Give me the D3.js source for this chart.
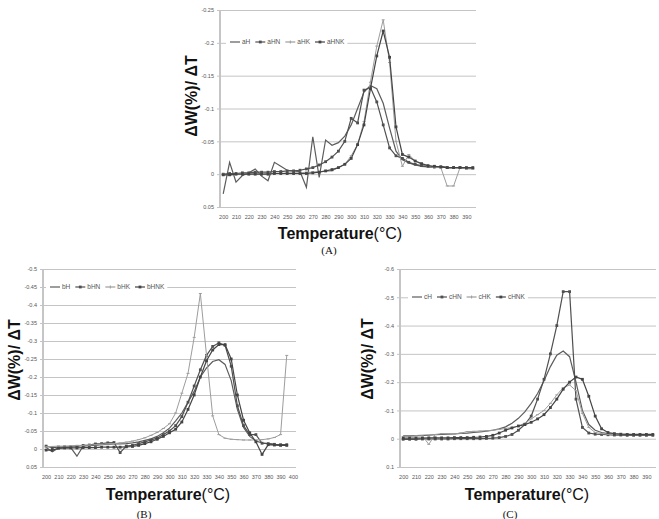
<!DOCTYPE html>
<html>
<head>
<meta charset="utf-8">
<script src="https://cdn.jsdelivr.net/npm/d3@7"></script>
<style>
body { margin: 0; background: #fff; }
svg { display: block; font-family: "Liberation Sans", Arial, sans-serif; }
</style>
</head>
<body>
<svg id="fig" width="659" height="519"></svg>
<script>
// categories (temperature, every 5 degC)
const tempsAC = [200,205,210,215,220,225,230,235,240,245,250,255,260,265,270,275,280,285,290,295,
                 300,305,310,315,320,325,330,335,340,345,350,355,360,365,370,375,380,385,390,395];
const tempsB = [200,205,210,215,220,225,230,235,240,245,250,255,260,265,270,275,280,285,290,295,
                300,305,310,315,320,325,330,335,340,345,350,355,360,365,370,375,380,385,390,395,400];

const xTicksAC = [200,210,220,230,240,250,260,270,280,290,300,310,320,330,340,350,360,370,380,390];
const xTicksB = [200,210,220,230,240,250,260,270,280,290,300,310,320,330,340,350,360,370,380,390,400];
const yTicksA = [0.05,0,-0.05,-0.1,-0.15,-0.2,-0.25];
const yTicksB = [0.05,0,-0.05,-0.1,-0.15,-0.2,-0.25,-0.3,-0.35,-0.4,-0.45,-0.5];
const yTicksC = [0.1,0,-0.1,-0.2,-0.3,-0.4,-0.5,-0.6];

// (A)
const namesA = ["aH","aHN","aHK","aHNK"];
const aH = [0.03,-0.018,0.012,0.002,-0.002,-0.008,0.003,0.01,-0.018,-0.012,-0.006,-0.005,-0.004,0.02,-0.057,0.005,-0.052,-0.044,-0.048,-0.058,
            -0.075,-0.1,-0.125,-0.135,-0.13,-0.108,-0.07,-0.035,-0.022,-0.017,-0.014,-0.012,-0.011,-0.01,-0.012,-0.01,-0.01,-0.01,-0.009,-0.009];
const aHN = [0,-0.001,-0.001,-0.002,-0.002,-0.003,-0.003,-0.003,-0.004,-0.004,-0.005,-0.005,-0.006,-0.008,-0.01,-0.014,-0.019,-0.026,-0.035,-0.05,
             -0.085,-0.078,-0.128,-0.132,-0.11,-0.075,-0.04,-0.028,-0.024,-0.018,-0.015,-0.013,-0.012,-0.011,-0.011,-0.01,-0.01,-0.01,-0.009,-0.009];
const aHK = [0,0.002,0,-0.001,0,-0.001,0,-0.001,-0.001,-0.001,-0.002,-0.002,-0.002,-0.003,-0.003,-0.004,-0.004,-0.005,-0.01,-0.015,
             -0.028,-0.045,-0.08,-0.14,-0.195,-0.235,-0.17,-0.05,-0.012,-0.03,-0.02,-0.015,-0.012,-0.01,-0.01,0.018,0.018,-0.01,-0.008,-0.008];
const aHNK = [0.001,0.001,0,0,0,0,0,0,-0.001,-0.001,-0.001,-0.001,-0.001,-0.001,-0.002,-0.003,-0.005,-0.007,-0.01,-0.015,
              -0.024,-0.045,-0.075,-0.13,-0.18,-0.218,-0.178,-0.072,-0.03,-0.026,-0.02,-0.016,-0.013,-0.012,-0.011,-0.01,-0.01,-0.01,-0.01,-0.01];

// (B)
const namesB = ["bH","bHN","bHK","bHNK"];
const bH = [-0.005,0.008,-0.003,-0.003,-0.004,0.02,-0.008,-0.009,-0.01,-0.012,-0.013,-0.014,-0.014,-0.015,-0.017,-0.02,-0.024,-0.028,-0.035,-0.045,
            -0.058,-0.078,-0.1,-0.13,-0.16,-0.2,-0.225,-0.243,-0.248,-0.235,-0.19,-0.11,-0.06,-0.035,-0.022,-0.017,-0.015,-0.013,-0.012,-0.012];
const bHN = [-0.008,-0.004,-0.005,-0.006,-0.006,-0.007,-0.01,-0.011,-0.014,-0.015,-0.017,-0.018,0.01,-0.008,-0.01,-0.015,-0.02,-0.025,-0.03,-0.04,
             -0.05,-0.065,-0.09,-0.13,-0.175,-0.22,-0.26,-0.285,-0.295,-0.288,-0.23,-0.12,-0.065,-0.04,-0.04,-0.016,-0.015,-0.013,-0.012,-0.012];
const bHK = [-0.006,-0.007,-0.008,-0.008,-0.009,-0.01,-0.01,-0.011,-0.012,-0.013,-0.014,-0.015,-0.017,-0.019,-0.022,-0.026,-0.031,-0.038,-0.046,-0.057,
             -0.07,-0.1,-0.155,-0.21,-0.31,-0.432,-0.26,-0.092,-0.04,-0.03,-0.027,-0.026,-0.025,-0.025,-0.025,-0.026,-0.028,-0.032,-0.04,-0.26];
const bHNK = [0.003,0.003,-0.002,-0.003,-0.003,-0.003,-0.004,-0.004,-0.004,-0.005,-0.005,-0.005,-0.005,-0.006,-0.007,-0.01,-0.015,-0.02,-0.027,-0.035,
              -0.045,-0.055,-0.075,-0.11,-0.15,-0.2,-0.245,-0.275,-0.29,-0.29,-0.25,-0.15,-0.08,-0.045,-0.02,0.015,-0.012,-0.011,-0.01,-0.01];

// (C)
const namesC = ["cH","cHN","cHK","cHNK"];
const cH = [-0.01,-0.01,-0.011,-0.012,-0.013,-0.014,-0.015,-0.016,-0.017,-0.019,-0.02,-0.022,-0.024,-0.027,-0.03,-0.035,-0.042,-0.055,-0.072,-0.095,
            -0.125,-0.16,-0.205,-0.255,-0.295,-0.31,-0.29,-0.2,-0.1,-0.05,-0.03,-0.022,-0.018,-0.016,-0.015,-0.015,-0.014,-0.014,-0.013,-0.013];
const cHN = [0.002,0.002,0.002,0.001,0.001,0.001,0.001,0.001,0,0,0,0,0,-0.001,-0.002,-0.004,-0.008,-0.015,-0.03,-0.05,
             -0.08,-0.14,-0.21,-0.3,-0.4,-0.52,-0.52,-0.14,-0.04,-0.02,-0.016,-0.015,-0.014,-0.013,-0.013,-0.012,-0.012,-0.012,-0.012,-0.012];
const cHK = [-0.008,-0.008,-0.01,-0.01,0.02,-0.015,-0.018,-0.018,-0.017,-0.02,-0.025,-0.026,-0.027,-0.028,-0.03,-0.033,-0.036,-0.04,-0.045,-0.055,
             -0.07,-0.085,-0.1,-0.125,-0.155,-0.18,-0.19,-0.17,-0.09,-0.04,-0.022,-0.018,-0.016,-0.015,-0.015,-0.014,-0.014,-0.014,-0.014,-0.014];
const cHNK = [-0.002,-0.002,-0.002,-0.002,-0.003,-0.003,-0.003,-0.003,-0.004,-0.004,-0.004,-0.005,-0.006,-0.008,-0.012,-0.02,-0.03,-0.038,-0.045,-0.05,
              -0.058,-0.07,-0.085,-0.11,-0.14,-0.175,-0.2,-0.218,-0.21,-0.15,-0.08,-0.035,-0.022,-0.018,-0.016,-0.015,-0.015,-0.015,-0.015,-0.015];

// line look per series slot: plain, marker, light, marker
const styles = [
  {color: "#5c5c5c", marker: null},
  {color: "#505050", marker: "dot"},
  {color: "#9d9d9d", marker: "dash"},
  {color: "#444444", marker: "dot"}
];

const panels = [
  {left: 220, right: 476, top: 10, bottom: 207, cats: tempsAC, xTicks: xTicksAC,
   yLow: 0.05, yHigh: -0.25, yTicks: yTicksA, names: namesA, series: [aH, aHN, aHK, aHNK],
   legend: [230, 42], yTitle: [191, 96], xTitle: [340, 239], label: "(A)", labelPos: [329, 254]},
  {left: 43, right: 296, top: 269, bottom: 467, cats: tempsB, xTicks: xTicksB,
   yLow: 0.05, yHigh: -0.5, yTicks: yTicksB, names: namesB, series: [bH, bHN, bHK, bHNK],
   legend: [50, 287], yTitle: [14, 360], xTitle: [168, 500], label: "(B)", labelPos: [144, 518]},
  {left: 400, right: 656, top: 269, bottom: 467, cats: tempsAC, xTicks: xTicksAC,
   yLow: 0.1, yHigh: -0.6, yTicks: yTicksC, names: namesC, series: [cH, cHN, cHK, cHNK],
   legend: [412, 297], yTitle: [367, 359], xTitle: [527, 500], label: "(C)", labelPos: [510, 518]}
];

const svg = d3.select("#fig");

panels.forEach(p => {
  const g = svg.append("g");

  const x = d3.scalePoint().domain(p.cats).range([p.left, p.right]).padding(0.5);
  const y = d3.scaleLinear().domain([p.yLow, p.yHigh]).range([p.bottom, p.top]);

  // gridlines + y labels
  const yAxis = g.append("g")
      .attr("transform", `translate(${p.left},0)`)
      .call(d3.axisLeft(y).tickValues(p.yTicks).tickSize(-(p.right - p.left)).tickPadding(6).tickFormat(String));
  yAxis.select(".domain").attr("stroke", "#8c8c8c").attr("d", `M0,${p.top}V${p.bottom}`);
  yAxis.selectAll(".tick line").attr("stroke", "#c4c4c4").attr("x1", -3);
  yAxis.selectAll(".tick text").attr("fill", "#555").attr("font-size", 5.5);

  // x labels
  const xAxis = g.append("g")
      .attr("transform", `translate(0,${p.bottom})`)
      .call(d3.axisBottom(x).tickValues(p.xTicks).tickSize(0).tickPadding(8));
  xAxis.select(".domain").remove();
  xAxis.selectAll(".tick text").attr("fill", "#555").attr("font-size", 5.5);

  // series
  p.series.forEach((vals, si) => {
    const st = styles[si];
    const pts = vals.map((v, i) => [x(p.cats[i]), y(v)]);
    g.append("path")
        .datum(pts)
        .attr("fill", "none")
        .attr("stroke", st.color)
        .attr("stroke-width", si === 2 ? 1 : 1.2)
        .attr("d", d3.line());
    if (st.marker === "dot") {
      g.selectAll(null).data(pts).join("rect")
          .attr("x", d => d[0] - 1.4).attr("y", d => d[1] - 1.4)
          .attr("width", 2.8).attr("height", 2.8)
          .attr("fill", st.color);
    } else if (st.marker === "dash") {
      g.selectAll(null).data(pts).join("line")
          .attr("x1", d => d[0] - 1.5).attr("x2", d => d[0] + 1.5)
          .attr("y1", d => d[1]).attr("y2", d => d[1])
          .attr("stroke", st.color).attr("stroke-width", 1);
    }
  });

  // legend
  const lg = g.append("g");
  const bg = lg.append("rect").attr("fill", "#fff");
  let lx = p.legend[0];
  const ly = p.legend[1];
  p.names.forEach((name, si) => {
    const st = styles[si];
    lg.append("line").attr("x1", lx).attr("x2", lx + 10).attr("y1", ly).attr("y2", ly)
        .attr("stroke", st.color).attr("stroke-width", 1.2);
    if (st.marker === "dot") {
      lg.append("rect").attr("x", lx + 3.6).attr("y", ly - 1.4).attr("width", 2.8).attr("height", 2.8).attr("fill", st.color);
    } else if (st.marker === "dash") {
      lg.append("line").attr("x1", lx + 5).attr("x2", lx + 5).attr("y1", ly - 1.5).attr("y2", ly + 1.5)
          .attr("stroke", st.color);
    }
    const t = lg.append("text").attr("x", lx + 12).attr("y", ly + 2.3)
        .attr("font-size", 6.5).attr("fill", "#555").text(name);
    lx += 12 + t.node().getComputedTextLength() + 5;
  });
  bg.attr("x", p.legend[0] - 4).attr("y", ly - 5).attr("width", lx - p.legend[0] + 2).attr("height", 10);

  // axis titles
  g.append("text")
      .attr("transform", `translate(${p.yTitle[0]},${p.yTitle[1]}) rotate(-90)`)
      .attr("text-anchor", "middle").attr("dy", "0.35em")
      .attr("font-size", 16).attr("font-weight", "bold").attr("fill", "#111")
      .text("ΔW(%)/ ΔT");

  const xt = g.append("text")
      .attr("x", p.xTitle[0]).attr("y", p.xTitle[1])
      .attr("text-anchor", "middle").attr("font-size", 16).attr("fill", "#111");
  xt.append("tspan").attr("font-weight", "bold").text("Temperature");
  xt.append("tspan").attr("font-weight", "normal").text("(°C)");

  g.append("text")
      .attr("x", p.labelPos[0]).attr("y", p.labelPos[1])
      .attr("text-anchor", "middle")
      .attr("font-family", "'Liberation Serif', 'Times New Roman', serif")
      .attr("font-size", 11).attr("fill", "#111")
      .text(p.label);
});
</script>
</body>
</html>
